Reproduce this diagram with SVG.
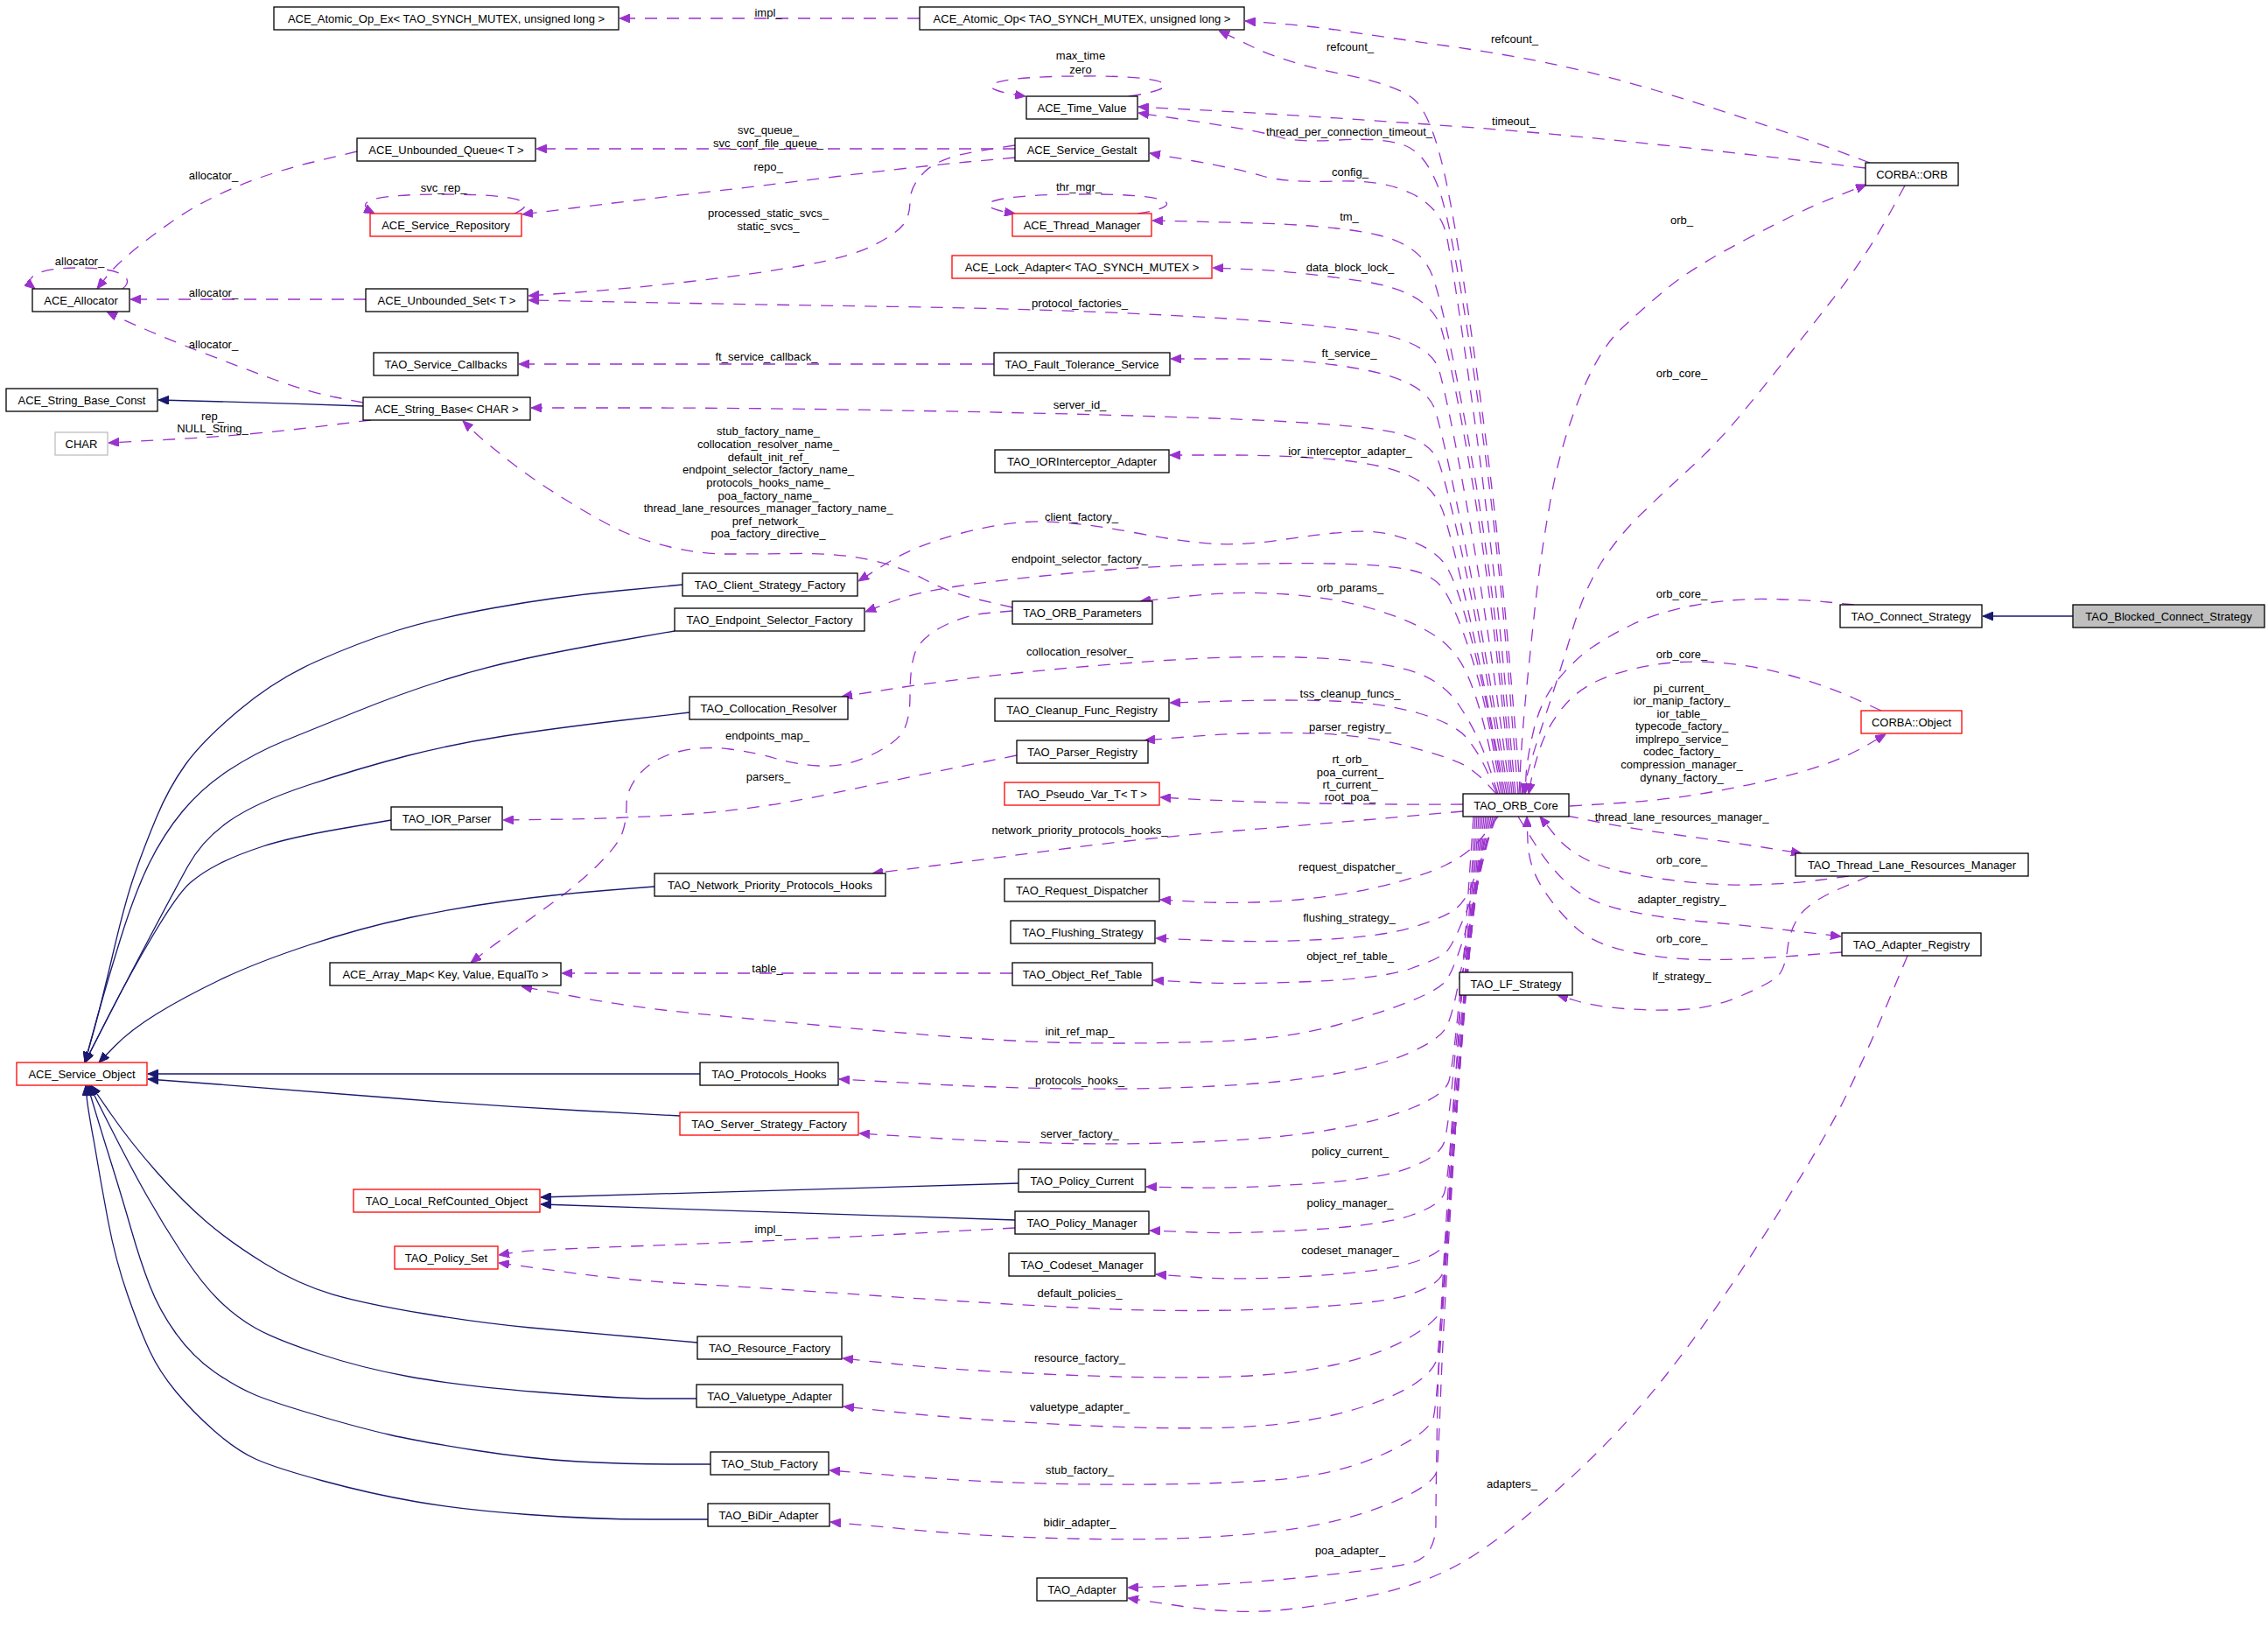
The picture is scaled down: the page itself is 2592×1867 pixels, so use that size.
<svg xmlns="http://www.w3.org/2000/svg" width="2592" height="1867" viewBox="0 0 2592 1867">
<style>
.e{fill:none;stroke:#9a32cd;stroke-width:1.3;stroke-dasharray:14,11;marker-end:url(#ap)}
.i{fill:none;stroke:#191970;stroke-width:1.3;marker-end:url(#an)}
.n rect{fill:#fff;stroke:#000;stroke-width:1.3}
.r rect{stroke:#ff0000}
.g rect{stroke:#bfbfbf}
.f rect{fill:#bfbfbf}
text{font-family:"Liberation Sans",Arial,Helvetica,sans-serif;font-size:13px;fill:#000;text-anchor:middle}
</style>
<defs>
<marker id="ap" viewBox="0 0 12 10" refX="12" refY="5" markerWidth="12" markerHeight="10" markerUnits="userSpaceOnUse" orient="auto"><path d="M0,0 L12,5 L0,10 z" fill="#9a32cd" stroke="#9a32cd" stroke-width="1" stroke-dasharray="none"/></marker>
<marker id="an" viewBox="0 0 12 10" refX="12" refY="5" markerWidth="12" markerHeight="10" markerUnits="userSpaceOnUse" orient="auto"><path d="M0,0 L12,5 L0,10 z" fill="#191970" stroke="#191970" stroke-width="1" stroke-dasharray="none"/></marker>
</defs>
<rect x="0" y="0" width="2592" height="1867" fill="#fff"/>
<g id="connectors">
<path class="e" d="M1051,21 L708,21"/>
<path class="e" d="M1738,907 L1725,753.5 Q1712,600 1688.5,430 Q1665,260 1650,195 Q1635,130 1616,113.5 Q1597,97 1533.5,84.5 Q1470,72 1431.5,53.5 L1393,35"/>
<path class="e" d="M2137,186 L2098,171.5 Q2059,157 2003.5,138.5 Q1948,120 1893,103.5 Q1838,87 1783,75 Q1728,63 1654,52.5 Q1580,42 1540,36 Q1500,30 1461.5,27 L1423,24"/>
<path class="e" d="M1290,110 C1360,100 1340,86 1236,87 C1130,87 1100,100 1172,110"/>
<path class="e" d="M2132,192 L2068,184.5 Q2004,177 1948.5,171 Q1893,165 1838,159.5 Q1783,154 1736.5,150 Q1690,146 1595,139.5 Q1500,133 1457.5,130.5 Q1415,128 1358,125 L1301,122"/>
<path class="e" d="M1735,907 L1722.5,753.5 Q1710,600 1685,430 Q1660,260 1645,217.5 Q1630,175 1605,166 Q1580,157 1530.5,160 Q1481,163 1461.5,156.5 Q1442,150 1371.5,139.5 L1301,129"/>
<path class="e" d="M1160,170 L613,170"/>
<path class="e" d="M1160,180 L1105.5,185 Q1051,190 957.5,201.5 Q864,213 790,221.5 Q716,230 656.5,237.5 L597,245"/>
<path class="e" d="M588,244 C615,232 600,222 507,222 C415,222 405,232 428,244"/>
<path class="e" d="M1160,166 L1116.5,173 Q1073,180 1056.5,196.5 Q1040,213 1040,230 Q1040,247 1032,257 Q1024,267 999,280 Q974,293 919,303 Q864,313 790,321.5 Q716,330 660,334 L604,338"/>
<path class="e" d="M1300,244 C1360,235 1340,221 1236,222 C1130,222 1100,235 1160,244"/>
<path class="e" d="M1732,907 L1718.5,763.5 Q1705,620 1682.5,460 Q1660,300 1653,268.5 Q1646,237 1613,221 Q1580,205 1525,207 Q1470,209 1442.5,201 Q1415,193 1364.5,184 L1314,175"/>
<path class="e" d="M1730,907 L1715,763.5 Q1700,620 1675,485 Q1650,350 1637,315 Q1624,280 1574.5,268.5 Q1525,257 1421,254.5 L1317,252"/>
<path class="e" d="M1728,907 L1714,778.5 Q1700,650 1680,535 Q1660,420 1647.5,376.5 Q1635,333 1558,321.5 Q1481,310 1433.5,308 L1386,306"/>
<path class="e" d="M1726,907 L1710.5,793.5 Q1695,680 1675,570 Q1655,460 1645,424 Q1635,388 1552.5,377.5 Q1470,367 1332.5,360 Q1195,353 1029.5,350.5 Q864,348 734,345.5 L604,343"/>
<path class="e" d="M1136,416 L593,416"/>
<path class="e" d="M1724,907 L1707,803.5 Q1690,700 1670,600 Q1650,500 1640,468.5 Q1630,437 1564,423.5 Q1498,410 1418,410 L1338,410"/>
<path class="e" d="M408,173 L358.5,185 Q309,197 270,213.5 Q231,230 203.5,248.5 Q176,267 154,285 Q132,303 121.5,316.5 L111,330"/>
<path class="e" d="M140,330 C155,318 140,306 90,306 C40,306 25,318 40,330"/>
<path class="e" d="M418,342 L149,342"/>
<path class="e" d="M415,460 L384,454 Q353,448 314.5,434 Q276,420 234.5,404 Q193,388 166.5,376.5 Q140,365 131,360.5 L122,356"/>
<path class="i" d="M415,464 Q300,460 181,457"/>
<path class="e" d="M424,480 L355,488.5 Q286,497 205,501.5 L124,506"/>
<path class="e" d="M1722,907 L1706,813.5 Q1690,720 1672.5,640 Q1655,560 1645,530 Q1635,500 1580,491.5 Q1525,483 1387.5,478 Q1250,473 1057,469.5 Q864,466 735.5,466 L607,466"/>
<path class="e" d="M1157,694 L1120.5,685.5 Q1084,677 1056.5,662 Q1029,647 993.5,639.5 Q958,632 911,632.5 Q864,633 831.5,633 Q799,633 766,625 Q733,617 711,607 Q689,597 650.5,573.5 Q612,550 583,527.5 Q554,505 541.5,493 L529,481"/>
<path class="e" d="M1720,907 L1705,828.5 Q1690,750 1675,685 Q1660,620 1650.5,588.5 Q1641,557 1610.5,543.5 Q1580,530 1525,525 Q1470,520 1403.5,520 L1337,520"/>
<path class="e" d="M1718,907 L1706.5,843.5 Q1695,780 1679,720 Q1663,660 1650.5,643.5 Q1638,627 1607.5,616 Q1577,605 1543.5,607.5 Q1510,610 1466.5,616.5 Q1423,623 1390,621.5 Q1357,620 1296,608.5 Q1235,597 1194,596 Q1153,595 1099.5,609 Q1046,623 1013.5,643.5 L981,664"/>
<path class="e" d="M1716,907 L1705.5,848.5 Q1695,790 1680,745 Q1665,700 1653,678.5 Q1641,657 1610.5,651 Q1580,645 1525,644 Q1470,643 1387.5,645 Q1305,647 1222.5,655 Q1140,663 1093,670 Q1046,677 1017.5,688 L989,699"/>
<path class="e" d="M1714,907 L1702,853.5 Q1690,800 1676.5,770 Q1663,740 1635.5,723.5 Q1608,707 1566.5,695 Q1525,683 1470,679 Q1415,675 1359,681 L1303,687"/>
<path class="e" d="M1712,907 L1701,873.5 Q1690,840 1668,806.5 Q1646,773 1599.5,763 Q1553,753 1484,751 Q1415,749 1332.5,754.5 Q1250,760 1167,768.5 Q1084,777 1023,786.5 L962,796"/>
<path class="e" d="M1711,907 L1700.5,883.5 Q1690,860 1676.5,843.5 Q1663,827 1621.5,815 Q1580,803 1525,801 Q1470,799 1403.5,801 L1337,803"/>
<path class="e" d="M1710,907 L1700,896 Q1690,885 1676.5,876 Q1663,867 1608,852.5 Q1553,838 1484,837.5 Q1415,837 1361.5,841.5 L1308,846"/>
<path class="e" d="M1162,863 L1095.5,876.5 Q1029,890 946.5,907.5 Q864,925 790,930 Q716,935 645.5,936 L575,937"/>
<path class="e" d="M1157,698 L1129,700.5 Q1101,703 1076,716.5 Q1051,730 1045.5,746.5 Q1040,763 1040,795 Q1040,827 1029,840 Q1018,853 990.5,865 Q963,877 935.5,875 Q908,873 886,866.5 Q864,860 834.5,856 Q805,852 777,858.5 Q749,865 732.5,882.5 Q716,900 716,920 Q716,940 710.5,953.5 Q705,967 683,988.5 Q661,1010 633.5,1030 Q606,1050 587,1063.5 Q568,1077 553,1088.5 L538,1100"/>
<path class="e" d="M1672,919 Q1470,920 1326,911"/>
<path class="e" d="M1672,927 L1598.5,933.5 Q1525,940 1415,949 Q1305,958 1222.5,969 Q1140,980 1068.5,989 L997,998"/>
<path class="e" d="M1736,907 L1738,870 Q1740,833 1745,783 Q1750,733 1755.5,683 Q1761,633 1772,571.5 Q1783,510 1805,455 Q1827,400 1852,376.5 Q1877,353 1904.5,330 Q1932,307 1995.5,273.5 Q2059,240 2096,225.5 L2133,211"/>
<path class="e" d="M2177,212 L2162,239.5 Q2147,267 2130.5,292 Q2114,317 2092,345 Q2070,373 2042.5,408 Q2015,443 1988.5,475 Q1962,507 1933,533.5 Q1904,560 1876.5,586.5 Q1849,613 1830,643 Q1811,673 1797,720 Q1783,767 1766.5,817 Q1750,867 1745,887 L1740,907"/>
<path class="e" d="M2119,691 L2089,688 Q2059,685 2017.5,684.5 Q1976,684 1934.5,692 Q1893,700 1865.5,713.5 Q1838,727 1819,740 Q1800,753 1780.5,776.5 Q1761,800 1753,833.5 Q1745,867 1744,887 L1743,907"/>
<path class="e" d="M2150,812 L2118,797.5 Q2086,783 2045,771.5 Q2004,760 1962.5,757 Q1921,754 1885,760.5 Q1849,767 1824.5,778.5 Q1800,790 1783.5,811.5 Q1767,833 1759.5,856.5 Q1752,880 1749.5,893.5 L1747,907"/>
<path class="e" d="M1794,921 L1843.5,918 Q1893,915 1934.5,908.5 Q1976,902 2017.5,892.5 Q2059,883 2086.5,873 Q2114,863 2134.5,851 L2155,839"/>
<path class="e" d="M1790,932 L1828,939.5 Q1866,947 1921,954.5 Q1976,962 2017.5,968.5 L2059,975"/>
<path class="e" d="M2113,1001 L2079.5,1005.5 Q2046,1010 2001.5,1011 Q1957,1012 1901.5,1004.5 Q1846,997 1819,985 Q1792,973 1776,953 L1760,933"/>
<path class="e" d="M1735,933 L1752.5,961.5 Q1770,990 1792,1010 Q1814,1030 1852,1039 Q1890,1048 1946,1053 Q2002,1058 2053,1064 L2104,1070"/>
<path class="e" d="M2105,1088 L2053.5,1092 Q2002,1096 1957,1096.5 Q1912,1097 1867.5,1088.5 Q1823,1080 1801,1060 Q1779,1040 1763,1015 Q1747,990 1746,961.5 L1745,933"/>
<path class="e" d="M2136,1001 L2102.5,1015.5 Q2069,1030 2057.5,1045 Q2046,1060 2043,1083.5 Q2040,1107 2032,1115 Q2024,1123 1990.5,1137.5 Q1957,1152 1923.5,1153.5 Q1890,1155 1856.5,1152.5 Q1823,1150 1801.5,1143.5 L1780,1137"/>
<path class="e" d="M1712,933 L1696,954 Q1680,975 1652,988.5 Q1624,1002 1574.5,1013.5 Q1525,1025 1470,1029 Q1415,1033 1370.5,1030.5 L1326,1028"/>
<path class="e" d="M1710,933 L1700,961.5 Q1690,990 1682,1011 Q1674,1032 1660,1041 Q1646,1050 1613,1060 Q1580,1070 1511,1073.5 Q1442,1077 1381.5,1074.5 L1321,1072"/>
<path class="e" d="M1708,933 L1696.5,976.5 Q1685,1020 1672.5,1050 Q1660,1080 1653,1087.5 Q1646,1095 1613,1106.5 Q1580,1118 1497.5,1121.5 Q1415,1125 1366.5,1122.5 L1318,1120"/>
<path class="e" d="M1157,1112 L642,1112"/>
<path class="e" d="M1706,933 L1693,991.5 Q1680,1050 1670,1080 Q1660,1110 1653,1120 Q1646,1130 1613,1143.5 Q1580,1157 1525,1172 Q1470,1187 1387.5,1190 Q1305,1193 1222.5,1191.5 Q1140,1190 1002,1177.5 Q864,1165 790,1157.5 Q716,1150 656,1138.5 L596,1127"/>
<path class="e" d="M1704,933 L1689.5,1006.5 Q1675,1080 1667.5,1120 Q1660,1160 1653,1173.5 Q1646,1187 1613,1202 Q1580,1217 1525,1227 Q1470,1237 1387.5,1241 Q1305,1245 1222.5,1244 Q1140,1243 1049.5,1238 L959,1233"/>
<path class="e" d="M1702,933 L1687,1016.5 Q1672,1100 1666,1160 Q1660,1220 1656,1235 Q1652,1250 1616,1265 Q1580,1280 1525,1290 Q1470,1300 1387.5,1304 Q1305,1308 1222.5,1306.5 Q1140,1305 1061,1300 L982,1295"/>
<path class="e" d="M1700,933 L1684,1041.5 Q1668,1150 1661.5,1220 Q1655,1290 1650.5,1305 Q1646,1320 1613,1333.5 Q1580,1347 1497.5,1352.5 Q1415,1358 1362.5,1357 L1310,1356"/>
<path class="e" d="M1698,933 L1681.5,1066.5 Q1665,1200 1660,1275 Q1655,1350 1650.5,1363.5 Q1646,1377 1613,1388.5 Q1580,1400 1497.5,1405 Q1415,1410 1364.5,1408 L1314,1406"/>
<path class="e" d="M1160,1403 L1012,1411 Q864,1419 735,1423.5 Q606,1428 588,1431 L570,1434"/>
<path class="e" d="M1696,933 L1679,1091.5 Q1662,1250 1658.5,1330 Q1655,1410 1650.5,1421.5 Q1646,1433 1613,1443 Q1580,1453 1497.5,1458 Q1415,1463 1368,1459.5 L1321,1456"/>
<path class="e" d="M1694,933 L1677,1116.5 Q1660,1300 1656,1370 Q1652,1440 1649,1453.5 Q1646,1467 1613,1478.5 Q1580,1490 1470,1495 Q1360,1500 1250,1495 Q1140,1490 1002,1480.5 Q864,1471 790,1467 Q716,1463 643,1453 L570,1443"/>
<path class="e" d="M1692,933 L1675,1141.5 Q1658,1350 1654,1415 Q1650,1480 1648,1493.5 Q1646,1507 1613,1527 Q1580,1547 1525,1559.5 Q1470,1572 1387.5,1573.5 Q1305,1575 1194.5,1570 Q1084,1565 1023.5,1558.5 L963,1552"/>
<path class="e" d="M1690,933 L1672.5,1166.5 Q1655,1400 1650,1465 Q1645,1530 1643,1548.5 Q1641,1567 1610.5,1585 Q1580,1603 1525,1616.5 Q1470,1630 1387.5,1631.5 Q1305,1633 1194.5,1626.5 Q1084,1620 1024,1613.5 L964,1607"/>
<path class="e" d="M1688,933 L1670,1191.5 Q1652,1450 1647,1525 Q1642,1600 1638.5,1618.5 Q1635,1637 1580,1662 Q1525,1687 1442.5,1692 Q1360,1697 1250,1696 Q1140,1695 1044,1687.5 L948,1680"/>
<path class="e" d="M1686,933 L1668,1216.5 Q1650,1500 1647,1580 Q1644,1660 1642.5,1678.5 Q1641,1697 1583,1720 Q1525,1743 1442.5,1751.5 Q1360,1760 1250,1758.5 Q1140,1757 1044.5,1748 L949,1739"/>
<path class="e" d="M1684,933 L1664.5,1216.5 Q1645,1500 1643,1600 Q1641,1700 1641,1740 Q1641,1780 1610.5,1786.5 Q1580,1793 1497.5,1801.5 Q1415,1810 1352,1812 L1289,1814"/>
<path class="e" d="M2180,1092 L2158,1144.5 Q2136,1197 2111.5,1248.5 Q2087,1300 2023.5,1400 Q1960,1500 1905,1570 Q1850,1640 1784,1698.5 Q1718,1757 1676.5,1782 Q1635,1807 1580,1820 Q1525,1833 1470,1839 Q1415,1845 1352,1835.5 L1289,1826"/>
<path class="i" d="M2369,704 L2266,704"/>
<path class="i" d="M780,668 L707,675 Q634,682 565,694.5 Q496,707 452,721 Q408,735 361,756 Q314,777 272.5,812 Q231,847 212,873.5 Q193,900 179,933.5 Q165,967 154,998.5 Q143,1030 129,1090 Q115,1150 106,1182 L97,1214"/>
<path class="i" d="M771,721 L710.5,731.5 Q650,742 600.5,752.5 Q551,763 504,778 Q457,793 407.5,813 Q358,833 325,846.5 Q292,860 261.5,880 Q231,900 209,926.5 Q187,953 170.5,986.5 Q154,1020 137,1075 Q120,1130 108.5,1172 L97,1214"/>
<path class="i" d="M788,814 L711,823 Q634,832 576,841 Q518,850 465.5,863.5 Q413,877 352.5,897 Q292,917 261.5,938.5 Q231,960 214.5,990 Q198,1020 169,1075 Q140,1130 118.5,1172 L97,1214"/>
<path class="i" d="M447,937 L389,947 Q331,957 300.5,967 Q270,977 250.5,987 Q231,997 217.5,1008.5 Q204,1020 177,1065 Q150,1110 123.5,1162 L97,1214"/>
<path class="i" d="M748,1013 L691,1017.5 Q634,1022 578.5,1029.5 Q523,1037 468,1048.5 Q413,1060 352.5,1080 Q292,1100 250.5,1120 Q209,1140 179,1158.5 Q149,1177 131,1195.5 L113,1214"/>
<path class="i" d="M800,1227 L169,1227"/>
<path class="i" d="M777,1275 L664,1269 Q551,1263 441,1254 Q331,1245 250,1239 L169,1233"/>
<path class="i" d="M797,1534 L729,1528 Q661,1522 606,1517 Q551,1512 485,1501 Q419,1490 380.5,1479 Q342,1468 303,1444 Q264,1420 236.5,1396.5 Q209,1373 179,1339 Q149,1305 126.5,1272.5 L104,1240"/>
<path class="i" d="M796,1598 L750.5,1598 Q705,1598 614,1590.5 Q523,1583 468,1573 Q413,1563 363.5,1546.5 Q314,1530 292,1517.5 Q270,1505 250.5,1486 Q231,1467 209,1433.5 Q187,1400 168,1366.5 Q149,1333 125.5,1286.5 L102,1240"/>
<path class="i" d="M812,1673 L764,1673 Q716,1673 661,1670 Q606,1667 542.5,1657 Q479,1647 446,1639.5 Q413,1632 363.5,1617.5 Q314,1603 292,1594 Q270,1585 245,1567.5 Q220,1550 201,1523.5 Q182,1497 171,1468.5 Q160,1440 150,1405 Q140,1370 127.5,1330 Q115,1290 107.5,1265 L100,1240"/>
<path class="i" d="M809,1736 L743.5,1736 Q678,1736 603.5,1730.5 Q529,1725 476.5,1716 Q424,1707 369,1692 Q314,1677 292,1667 Q270,1657 245,1635 Q220,1613 201,1590 Q182,1567 171,1543.5 Q160,1520 146,1480 Q132,1440 123.5,1395 Q115,1350 107.5,1305 Q100,1265 99,1252 L98,1240"/>
<path class="i" d="M1164,1352 Q864,1360 618,1368"/>
<path class="i" d="M1160,1394 Q864,1383 618,1376"/>
<g id="labels">
<text x="878" y="18.5">impl_</text>
<text x="1543" y="57.5">refcount_</text>
<text x="1731" y="48.5">refcount_</text>
<text x="1235" y="67.5">max_time</text>
<text x="1235" y="83.5">zero</text>
<text x="1730" y="142.5">timeout_</text>
<text x="1542" y="154.5">thread_per_connection_timeout_</text>
<text x="878" y="152.5">svc_queue_</text>
<text x="878" y="167.5">svc_conf_file_queue_</text>
<text x="878" y="194.5">repo_</text>
<text x="1543" y="200.5">config_</text>
<text x="244" y="204.5">allocator_</text>
<text x="507" y="218.5">svc_rep_</text>
<text x="1233" y="217.5">thr_mgr_</text>
<text x="878" y="247.5">processed_static_svcs_</text>
<text x="878" y="262.5">static_svcs_</text>
<text x="1542" y="251.5">tm_</text>
<text x="1922" y="255.5">orb_</text>
<text x="91" y="302.5">allocator_</text>
<text x="1543" y="309.5">data_block_lock_</text>
<text x="244" y="338.5">allocator_</text>
<text x="1234" y="350.5">protocol_factories_</text>
<text x="244" y="397.5">allocator_</text>
<text x="876" y="411.5">ft_service_callback_</text>
<text x="1542" y="407.5">ft_service_</text>
<text x="1922" y="430.5">orb_core_</text>
<text x="1234" y="466.5">server_id_</text>
<text x="243" y="479.5">rep_</text>
<text x="243" y="493.5">NULL_String_</text>
<text x="878" y="496.5">stub_factory_name_</text>
<text x="878" y="511.5">collocation_resolver_name_</text>
<text x="878" y="526.5">default_init_ref_</text>
<text x="878" y="540.5">endpoint_selector_factory_name_</text>
<text x="878" y="555.5">protocols_hooks_name_</text>
<text x="878" y="570.5">poa_factory_name_</text>
<text x="878" y="584.5">thread_lane_resources_manager_factory_name_</text>
<text x="878" y="599.5">pref_network_</text>
<text x="878" y="613.5">poa_factory_directive_</text>
<text x="1543" y="519.5">ior_interceptor_adapter_</text>
<text x="1236" y="594.5">client_factory_</text>
<text x="1234" y="642.5">endpoint_selector_factory_</text>
<text x="1543" y="675.5">orb_params_</text>
<text x="1922" y="682.5">orb_core_</text>
<text x="1234" y="748.5">collocation_resolver_</text>
<text x="1922" y="751.5">orb_core_</text>
<text x="1922" y="790.5">pi_current_</text>
<text x="1922" y="804.5">ior_manip_factory_</text>
<text x="1922" y="819.5">ior_table_</text>
<text x="1922" y="833.5">typecode_factory_</text>
<text x="1922" y="848.5">implrepo_service_</text>
<text x="1922" y="862.5">codec_factory_</text>
<text x="1922" y="877.5">compression_manager_</text>
<text x="1922" y="892.5">dynany_factory_</text>
<text x="1543" y="796.5">tss_cleanup_funcs_</text>
<text x="1543" y="834.5">parser_registry_</text>
<text x="877" y="844.5">endpoints_map_</text>
<text x="1543" y="871.5">rt_orb_</text>
<text x="1543" y="886.5">poa_current_</text>
<text x="1543" y="900.5">rt_current_</text>
<text x="1543" y="915">root_poa_</text>
<text x="878" y="891.5">parsers_</text>
<text x="1922" y="937.5">thread_lane_resources_manager_</text>
<text x="1234" y="952.5">network_priority_protocols_hooks_</text>
<text x="1922" y="986.5">orb_core_</text>
<text x="1543" y="994.5">request_dispatcher_</text>
<text x="1922" y="1031.5">adapter_registry_</text>
<text x="1542" y="1052.5">flushing_strategy_</text>
<text x="1922" y="1076.5">orb_core_</text>
<text x="1543" y="1096.5">object_ref_table_</text>
<text x="877" y="1110.5">table_</text>
<text x="1922" y="1119.5">lf_strategy_</text>
<text x="1234" y="1182.5">init_ref_map_</text>
<text x="1234" y="1238.5">protocols_hooks_</text>
<text x="1234" y="1299.5">server_factory_</text>
<text x="1543" y="1319.5">policy_current_</text>
<text x="1543" y="1378.5">policy_manager_</text>
<text x="878" y="1408.5">impl_</text>
<text x="1543" y="1432.5">codeset_manager_</text>
<text x="1234" y="1481.5">default_policies_</text>
<text x="1234" y="1555.5">resource_factory_</text>
<text x="1234" y="1611.5">valuetype_adapter_</text>
<text x="1234" y="1683.5">stub_factory_</text>
<text x="1728" y="1699.5">adapters_</text>
<text x="1234" y="1743.5">bidir_adapter_</text>
<text x="1543" y="1775.5">poa_adapter_</text>
</g>
</g>
<g id="n_atomic_ex" class="n"><rect x="313" y="8" width="394" height="26"/><text x="510" y="25.5">ACE_Atomic_Op_Ex&lt; TAO_SYNCH_MUTEX, unsigned long &gt;</text></g>
<g id="n_atomic" class="n"><rect x="1051" y="8" width="371" height="26"/><text x="1236.5" y="25.5">ACE_Atomic_Op&lt; TAO_SYNCH_MUTEX, unsigned long &gt;</text></g>
<g id="n_time_value" class="n"><rect x="1173" y="110" width="127" height="26"/><text x="1236.5" y="127.5">ACE_Time_Value</text></g>
<g id="n_unbounded_queue" class="n"><rect x="408" y="158" width="204" height="26"/><text x="510" y="175.5">ACE_Unbounded_Queue&lt; T &gt;</text></g>
<g id="n_service_gestalt" class="n"><rect x="1160" y="158" width="153" height="26"/><text x="1236.5" y="175.5">ACE_Service_Gestalt</text></g>
<g id="n_service_repository" class="n r"><rect x="423" y="244" width="173" height="26"/><text x="509.5" y="261.5">ACE_Service_Repository</text></g>
<g id="n_thread_manager" class="n r"><rect x="1157" y="244" width="159" height="26"/><text x="1236.5" y="261.5">ACE_Thread_Manager</text></g>
<g id="n_lock_adapter" class="n r"><rect x="1088" y="292" width="297" height="26"/><text x="1236.5" y="309.5">ACE_Lock_Adapter&lt; TAO_SYNCH_MUTEX &gt;</text></g>
<g id="n_allocator" class="n"><rect x="37" y="330" width="111" height="26"/><text x="92.5" y="347.5">ACE_Allocator</text></g>
<g id="n_unbounded_set" class="n"><rect x="418" y="330" width="185" height="26"/><text x="510.5" y="347.5">ACE_Unbounded_Set&lt; T &gt;</text></g>
<g id="n_corba_orb" class="n"><rect x="2132" y="186" width="106" height="26"/><text x="2185" y="203.5">CORBA::ORB</text></g>
<g id="n_service_callbacks" class="n"><rect x="427" y="403" width="165" height="26"/><text x="509.5" y="420.5">TAO_Service_Callbacks</text></g>
<g id="n_fault_tolerance" class="n"><rect x="1136" y="403" width="201" height="26"/><text x="1236.5" y="420.5">TAO_Fault_Tolerance_Service</text></g>
<g id="n_string_base_const" class="n"><rect x="7" y="444" width="173" height="26"/><text x="93.5" y="461.5">ACE_String_Base_Const</text></g>
<g id="n_string_base" class="n"><rect x="415" y="454" width="191" height="26"/><text x="510.5" y="471.5">ACE_String_Base&lt; CHAR &gt;</text></g>
<g id="n_char" class="n g"><rect x="63" y="494" width="60" height="26"/><text x="93" y="511.5">CHAR</text></g>
<g id="n_iorinterceptor_adapter" class="n"><rect x="1137" y="514" width="199" height="26"/><text x="1236.5" y="531.5">TAO_IORInterceptor_Adapter</text></g>
<g id="n_client_strategy_factory" class="n"><rect x="780" y="655" width="200" height="26"/><text x="880" y="672.5">TAO_Client_Strategy_Factory</text></g>
<g id="n_orb_parameters" class="n"><rect x="1157" y="687" width="160" height="26"/><text x="1237" y="704.5">TAO_ORB_Parameters</text></g>
<g id="n_endpoint_selector_factory" class="n"><rect x="771" y="695" width="217" height="26"/><text x="879.5" y="712.5">TAO_Endpoint_Selector_Factory</text></g>
<g id="n_connect_strategy" class="n"><rect x="2103" y="691" width="162" height="26"/><text x="2184" y="708.5">TAO_Connect_Strategy</text></g>
<g id="n_blocked_connect_strategy" class="n f"><rect x="2369" y="691" width="219" height="26"/><text x="2478.5" y="708.5">TAO_Blocked_Connect_Strategy</text></g>
<g id="n_collocation_resolver" class="n"><rect x="788" y="796" width="181" height="26"/><text x="878.5" y="813.5">TAO_Collocation_Resolver</text></g>
<g id="n_cleanup_func_registry" class="n"><rect x="1137" y="798" width="199" height="26"/><text x="1236.5" y="815.5">TAO_Cleanup_Func_Registry</text></g>
<g id="n_corba_object" class="n r"><rect x="2127" y="812" width="115" height="26"/><text x="2184.5" y="829.5">CORBA::Object</text></g>
<g id="n_parser_registry" class="n"><rect x="1162" y="846" width="150" height="26"/><text x="1237" y="863.5">TAO_Parser_Registry</text></g>
<g id="n_pseudo_var" class="n r"><rect x="1148" y="894" width="177" height="26"/><text x="1236.5" y="911.5">TAO_Pseudo_Var_T&lt; T &gt;</text></g>
<g id="n_orb_core" class="n"><rect x="1672" y="907" width="121" height="26"/><text x="1732.5" y="924.5">TAO_ORB_Core</text></g>
<g id="n_ior_parser" class="n"><rect x="447" y="922" width="127" height="26"/><text x="510.5" y="939.5">TAO_IOR_Parser</text></g>
<g id="n_thread_lane_resources_manager" class="n"><rect x="2052" y="975" width="266" height="26"/><text x="2185" y="992.5">TAO_Thread_Lane_Resources_Manager</text></g>
<g id="n_network_priority_protocols_hooks" class="n"><rect x="748" y="998" width="264" height="26"/><text x="880" y="1015.5">TAO_Network_Priority_Protocols_Hooks</text></g>
<g id="n_request_dispatcher" class="n"><rect x="1148" y="1004" width="177" height="26"/><text x="1236.5" y="1021.5">TAO_Request_Dispatcher</text></g>
<g id="n_flushing_strategy" class="n"><rect x="1155" y="1052" width="165" height="26"/><text x="1237.5" y="1069.5">TAO_Flushing_Strategy</text></g>
<g id="n_adapter_registry" class="n"><rect x="2105" y="1066" width="159" height="26"/><text x="2184.5" y="1083.5">TAO_Adapter_Registry</text></g>
<g id="n_array_map" class="n"><rect x="377" y="1100" width="264" height="26"/><text x="509" y="1117.5">ACE_Array_Map&lt; Key, Value, EqualTo &gt;</text></g>
<g id="n_object_ref_table" class="n"><rect x="1157" y="1100" width="160" height="26"/><text x="1237" y="1117.5">TAO_Object_Ref_Table</text></g>
<g id="n_lf_strategy" class="n"><rect x="1668" y="1111" width="129" height="26"/><text x="1732.5" y="1128.5">TAO_LF_Strategy</text></g>
<g id="n_service_object" class="n r"><rect x="19" y="1214" width="149" height="26"/><text x="93.5" y="1231.5">ACE_Service_Object</text></g>
<g id="n_protocols_hooks" class="n"><rect x="800" y="1214" width="158" height="26"/><text x="879" y="1231.5">TAO_Protocols_Hooks</text></g>
<g id="n_server_strategy_factory" class="n r"><rect x="777" y="1271" width="204" height="26"/><text x="879" y="1288.5">TAO_Server_Strategy_Factory</text></g>
<g id="n_policy_current" class="n"><rect x="1164" y="1336" width="145" height="26"/><text x="1236.5" y="1353.5">TAO_Policy_Current</text></g>
<g id="n_local_refcounted_object" class="n r"><rect x="404" y="1359" width="213" height="26"/><text x="510.5" y="1376.5">TAO_Local_RefCounted_Object</text></g>
<g id="n_policy_manager" class="n"><rect x="1160" y="1384" width="153" height="26"/><text x="1236.5" y="1401.5">TAO_Policy_Manager</text></g>
<g id="n_policy_set" class="n r"><rect x="451" y="1424" width="118" height="26"/><text x="510" y="1441.5">TAO_Policy_Set</text></g>
<g id="n_codeset_manager" class="n"><rect x="1153" y="1432" width="167" height="26"/><text x="1236.5" y="1449.5">TAO_Codeset_Manager</text></g>
<g id="n_resource_factory" class="n"><rect x="797" y="1527" width="165" height="26"/><text x="879.5" y="1544.5">TAO_Resource_Factory</text></g>
<g id="n_valuetype_adapter" class="n"><rect x="796" y="1582" width="167" height="26"/><text x="879.5" y="1599.5">TAO_Valuetype_Adapter</text></g>
<g id="n_stub_factory" class="n"><rect x="812" y="1659" width="135" height="26"/><text x="879.5" y="1676.5">TAO_Stub_Factory</text></g>
<g id="n_bidir_adapter" class="n"><rect x="809" y="1718" width="139" height="26"/><text x="878.5" y="1735.5">TAO_BiDir_Adapter</text></g>
<g id="n_adapter" class="n"><rect x="1185" y="1803" width="103" height="26"/><text x="1236.5" y="1820.5">TAO_Adapter</text></g>
</svg>
